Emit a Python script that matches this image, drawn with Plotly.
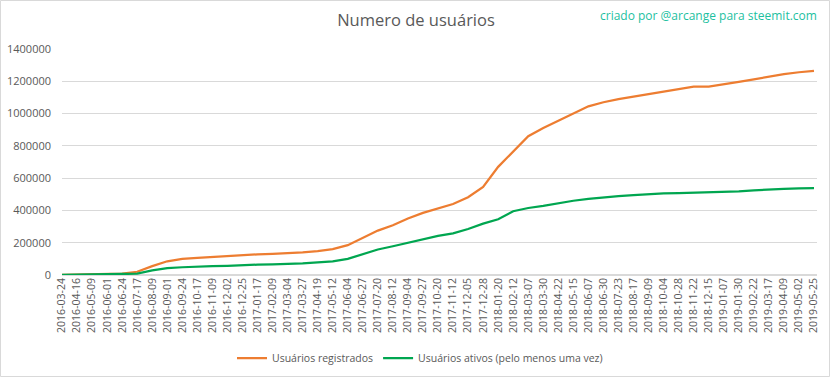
import plotly.graph_objects as go

dates = ["2016-03-24","2016-04-16","2016-05-09","2016-06-01","2016-06-24","2016-07-17","2016-08-09",
         "2016-09-01","2016-09-24","2016-10-17","2016-11-09","2016-12-02","2016-12-25","2017-01-17",
         "2017-02-09","2017-03-04","2017-03-27","2017-04-19","2017-05-12","2017-06-04","2017-06-27",
         "2017-07-20","2017-08-12","2017-09-04","2017-09-27","2017-10-20","2017-11-12","2017-12-05",
         "2017-12-28","2018-01-20","2018-02-12","2018-03-07","2018-03-30","2018-04-22","2018-05-15",
         "2018-06-07","2018-06-30","2018-07-23","2018-08-17","2018-09-09","2018-10-04","2018-10-28",
         "2018-11-22","2018-12-15","2019-01-07","2019-01-30","2019-02-22","2019-03-17","2019-04-09",
         "2019-05-02","2019-05-25"]

registrados = [0, 2000, 4000, 6000, 9000, 20000, 55000, 85000, 100000, 106000, 112000, 116000, 124000,
               128000, 131000, 134000, 140000, 148000, 160000, 185000, 232000, 275000, 308000, 350000,
               385000, 412000, 440000, 482000, 545000, 670000, 762000, 860000, 910000, 955000, 1005000,
               1045000, 1070000, 1090000, 1105000, 1120000, 1138000, 1152000, 1167000, 1167000, 1180000,
               1197000, 1212000, 1230000, 1244000, 1256000, 1264000]

ativos = [0, 1000, 2000, 3000, 4000, 8000, 28000, 42000, 48000, 53000, 55000, 57000, 62000, 64000,
          66000, 67000, 72000, 78000, 85000, 100000, 130000, 158000, 178000, 200000, 222000, 242000,
          258000, 285000, 318000, 345000, 395000, 415000, 428000, 446000, 460000, 472000, 482000,
          489000, 495000, 501000, 505000, 507000, 510000, 511000, 512000, 518000, 524000, 530000,
          534000, 537000, 538000]

y_ticks = [0, 200000, 400000, 600000, 800000, 1000000, 1200000, 1400000]

FONT = "Open Sans"
GRAY = "#595959"

fig = go.Figure()
fig.add_trace(go.Scatter(x=dates, y=registrados, mode="lines", name="Usuários registrados",
                         line=dict(color="#ED7D31", width=2.25)))
fig.add_trace(go.Scatter(x=dates, y=ativos, mode="lines", name="Usuários ativos (pelo menos uma vez)",
                         line=dict(color="#00A650", width=2.25)))

L, R, T, B = 62, 15, 49, 104
W, H = 832, 379
pw, ph = W - L - R, H - T - B

fig.update_layout(
    width=W, height=H,
    margin=dict(l=L, r=R, t=T, b=B, autoexpand=False),
    paper_bgcolor="white", plot_bgcolor="white",
    font=dict(family=FONT, size=11, color=GRAY),
    title=dict(text="Numero de usuários", x=416 / W, xanchor="center", y=1 - 20 / H, yanchor="middle",
               font=dict(family=FONT, size=16.5, color=GRAY)),
    xaxis=dict(type="category", tickangle=-90, showgrid=False, showline=False, ticks="",
               automargin=False,
               range=[0, len(dates) - 1 + 0.2], tickfont=dict(size=10.5, color=GRAY)),
    yaxis=dict(range=[0, 1400000], tickvals=y_ticks, ticktext=[str(v) for v in y_ticks],
               automargin=False,
               showgrid=True, gridcolor="#D9D9D9", gridwidth=1, zeroline=True, zerolinecolor="#D9D9D9",
               showline=False, ticks="", ticklabelstandoff=10, tickfont=dict(size=11, color=GRAY)),
    legend=dict(orientation="h", x=(420 - L) / pw, xanchor="center", y=-(358 - (H - B)) / ph,
                yanchor="middle", font=dict(size=10.5, color=GRAY), itemwidth=30,
                bgcolor="rgba(0,0,0,0)"),
    showlegend=True,
)

fig.add_annotation(text="criado por @arcange para steemit.com", xref="paper", yref="paper",
                   x=(819 - L) / pw, xanchor="right", y=1 + (T - 15) / ph, yanchor="middle",
                   showarrow=False, font=dict(family=FONT, size=12, color="#1DBF9F"))

fig.add_shape(type="rect", xref="paper", yref="paper",
              x0=(0.5 - L) / pw, x1=(W - 2.5 - L) / pw, y0=-(B - 2.5) / ph, y1=1 + (T - 0.5) / ph,
              line=dict(color="#D9D9D9", width=1), fillcolor="rgba(0,0,0,0)", layer="below")

fig.write_html("out.html", config={"displayModeBar": False},
               post_script="document.body.style.margin='0';document.body.style.padding='0';")
